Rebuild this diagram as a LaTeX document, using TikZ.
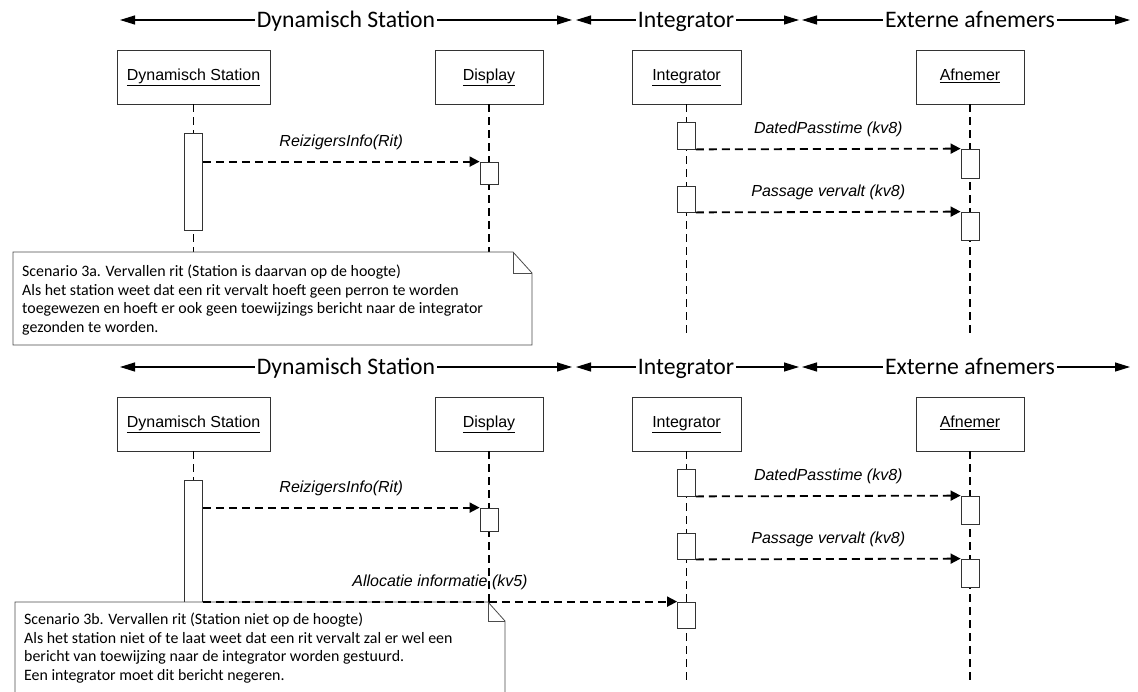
\documentclass[tikz,border=0pt]{standalone}
\usepackage{fontspec}
\setmainfont{Carlito}
\newfontfamily\arialfont{Liberation Sans}
\usetikzlibrary{arrows.meta}

\begin{document}
\begin{tikzpicture}[x=1pt,y=-1pt,
	head/.style={font=\fontsize{23.7}{27}\selectfont, inner sep=2pt, anchor=base},
	headline/.style={line width=1.2pt, -{Triangle[length=15pt,width=9pt]}},
	obj/.style={draw=black!80, line width=0.8pt, fill=white, minimum height=54pt, inner sep=0pt, text height=11.5pt, text depth=4pt, font=\arialfont\fontsize{16}{18}\selectfont},
	life/.style={line width=1.8pt, dash pattern=on 8pt off 5pt},
	act/.style={draw=black!80, line width=0.8pt, fill=white, minimum width=18pt, inner sep=0pt},
	msg/.style={line width=1.8pt, dash pattern=on 8pt off 5pt, -{Triangle[length=10pt,width=10pt]}},
	lbl/.style={font=\arialfont\itshape\fontsize{16}{18}\selectfont, inner sep=1pt, above=10pt},
	notebox/.style={draw=black!70, line width=0.8pt, fill=white},
	notetext/.style={font=\fontsize{15.9}{18.5}\selectfont, align=left, anchor=north west, inner sep=0pt}]

	\clip (0,0) rectangle (1138,691);

	\node[head] (hds1) at (346,27.5) {Dynamisch Station};
	\node[head] (hin1) at (686,27.5) {Integrator};
	\node[head] (hex1) at (970,27.5) {Externe afnemers};
	\coordinate (h1a) at (120,20);
	\coordinate (h1b) at (572,20);
	\coordinate (h1c) at (576,20);
	\coordinate (h1d) at (799,20);
	\coordinate (h1e) at (802,20);
	\coordinate (h1f) at (1130,20);
	\draw[headline] (hds1.west |- h1a) -- (h1a);
	\draw[headline] (hds1.east |- h1a) -- (h1b);
	\draw[headline] (hin1.west |- h1a) -- (h1c);
	\draw[headline] (hin1.east |- h1a) -- (h1d);
	\draw[headline] (hex1.west |- h1a) -- (h1e);
	\draw[headline] (hex1.east |- h1a) -- (h1f);

	\node[obj, minimum width=153pt] (ds1) at (193.5,77) {\underline{Dynamisch Station}};
	\node[obj, minimum width=108pt] (di1) at (489,77) {\underline{Display}};
	\node[obj, minimum width=109pt] (in1) at (686.5,77) {\underline{Integrator}};
	\node[obj, minimum width=108pt] (af1) at (970,77) {\underline{Afnemer}};

	\coordinate (ds1e) at (193.5,252);
	\coordinate (di1e) at (489,252);
	\coordinate (in1e) at (686.5,333);
	\coordinate (af1e) at (970,333);
	\draw[life] (ds1) -- (ds1e);
	\draw[life] (di1) -- (di1e);
	\draw[life] (in1) -- (in1e);
	\draw[life] (af1) -- (af1e);

	\node[act, minimum height=97pt] (ds1a) at (193.5,181.5) {};
	\node[act, minimum height=22pt] (di1a) at (489,173) {};
	\node[act, minimum height=27pt] (in1a) at (686.5,135.5) {};
	\node[act, minimum height=29pt] (af1a) at (970,163.5) {};
	\node[act, minimum height=26pt] (in1b) at (686.5,199) {};
	\node[act, minimum height=28pt] (af1b) at (970,226) {};

	\draw[msg] (ds1a.east |- di1a.north) -- node[lbl] {ReizigersInfo(Rit)} (di1a.north west);
	\draw[msg] (in1a.south east) -- node[lbl] {DatedPasstime (kv8)} (af1a.north west);
	\draw[msg] (in1b.south east) -- node[lbl] {Passage vervalt (kv8)} (af1b.north west);

	\draw[notebox] (13,252) -- (513,252) -- (532,273) -- (532,345) -- (13,345) -- cycle;
	\draw[notebox, fill=none] (513,252) -- (513,273) -- (532,273);
	\node[notetext] (note1) at (22,265) {Scenario 3a. Vervallen rit (Station is daarvan op de hoogte)\\
		Als het station weet dat een rit vervalt hoeft geen perron te worden\\
		toegewezen en hoeft er ook geen toewijzings bericht naar de integrator\\
		gezonden te worden.};

	\node[head] (hds2) at (346,374.5) {Dynamisch Station};
	\node[head] (hin2) at (686,374.5) {Integrator};
	\node[head] (hex2) at (970,374.5) {Externe afnemers};
	\coordinate (h2a) at (120,367);
	\coordinate (h2b) at (572,367);
	\coordinate (h2c) at (576,367);
	\coordinate (h2d) at (799,367);
	\coordinate (h2e) at (802,367);
	\coordinate (h2f) at (1130,367);
	\draw[headline] (hds2.west |- h2a) -- (h2a);
	\draw[headline] (hds2.east |- h2a) -- (h2b);
	\draw[headline] (hin2.west |- h2a) -- (h2c);
	\draw[headline] (hin2.east |- h2a) -- (h2d);
	\draw[headline] (hex2.west |- h2a) -- (h2e);
	\draw[headline] (hex2.east |- h2a) -- (h2f);

	\node[obj, minimum width=153pt] (ds2) at (193.5,424) {\underline{Dynamisch Station}};
	\node[obj, minimum width=108pt] (di2) at (489,424) {\underline{Display}};
	\node[obj, minimum width=109pt] (in2) at (686.5,424) {\underline{Integrator}};
	\node[obj, minimum width=108pt] (af2) at (970,424) {\underline{Afnemer}};

	\coordinate (ds2e) at (193.5,602);
	\coordinate (di2e) at (489,602);
	\coordinate (in2e) at (686.5,684);
	\coordinate (af2e) at (970,684);
	\draw[life] (ds2) -- (ds2e);
	\draw[life] (di2) -- (di2e);
	\draw[life] (in2) -- (in2e);
	\draw[life] (af2) -- (af2e);

	\node[act, minimum height=170pt] (ds2a) at (193.5,565) {};
	\node[act, minimum height=23pt] (di2a) at (489,519.5) {};
	\node[act, minimum height=27pt] (in2a) at (686.5,482.5) {};
	\node[act, minimum height=28pt] (af2a) at (970,510) {};
	\node[act, minimum height=26pt] (in2b) at (686.5,546) {};
	\node[act, minimum height=28pt] (af2b) at (970,573) {};
	\node[act, minimum height=26pt] (in2c) at (686.5,615) {};

	\draw[msg] (ds2a.east |- di2a.north) -- node[lbl] {ReizigersInfo(Rit)} (di2a.north west);
	\draw[msg] (in2a.south east) -- node[lbl] {DatedPasstime (kv8)} (af2a.north west);
	\draw[msg] (in2b.south east) -- node[lbl] {Passage vervalt (kv8)} (af2b.north west);

	\draw[notebox] (15,602) -- (488,602) -- (505,621) -- (505,700) -- (15,700) -- cycle;
	\draw[notebox, fill=none] (488,602) -- (488,621) -- (505,621);
	\node[notetext] (note2) at (24,613) {Scenario 3b. Vervallen rit (Station niet op de hoogte)\\
		Als het station niet of te laat weet dat een rit vervalt zal er wel een\\
		bericht van toewijzing naar de integrator worden gestuurd.\\
		Een integrator moet dit bericht negeren.};

	\draw[msg] (ds2a.east |- in2c.north) -- node[lbl] {Allocatie informatie (kv5)} (in2c.north west);
\end{tikzpicture}
\end{document}
